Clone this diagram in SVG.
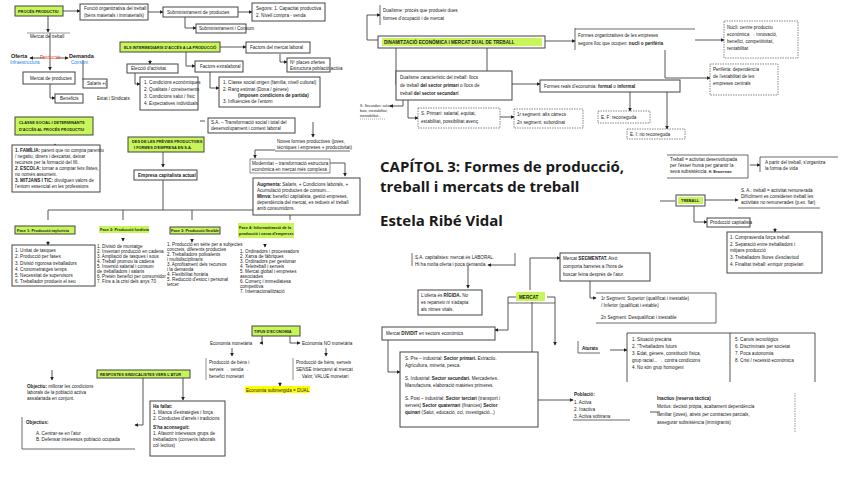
<svg xmlns="http://www.w3.org/2000/svg" width="848" height="477" viewBox="0 0 848 477">
<style>
text{font-family:"Liberation Sans",Arial,sans-serif;font-size:4.6px;fill:#222}
.b{fill:#fff;stroke:#444;stroke-width:1}
.g{fill:#c8f55a;stroke:#444;stroke-width:1}
.d{fill:#fff;stroke:#555;stroke-width:0.7;stroke-dasharray:1.5 1}
.t{font-weight:bold}
.s{font-size:3.9px}
.c path,.c line{fill:none;stroke:#444;stroke-width:0.9}
.big{font-size:15px;font-weight:bold;font-family:"Open Sans","Liberation Sans",sans-serif;fill:#1a1a1a}
</style>
<defs><marker id="a" viewBox="0 0 6 6" refX="5" refY="3" markerWidth="4" markerHeight="4" orient="auto"><path d="M0,0L6,3L0,6z" fill="#222"/></marker></defs>
<rect width="848" height="477" fill="#fff"/>
<g class="c" marker-end="url(#a)">
<path d="M63,11H80"/><path d="M148,12H163"/><path d="M238,12H252"/><path d="M185,17V28H196"/>
<path d="M48,16V32" /><path d="M50,33V70"/><path d="M45,58H30"/><path d="M56,58H68"/>
<path d="M50,84V98H55"/><path d="M83,60V80H87" marker-end="none"/>
<path d="M220,47H246"/><path d="M186,52V66H195"/><path d="M280,54V62H287"/><path d="M150,60V64"/>
<path d="M135,73V84H140"/><path d="M210,72V88H219"/>
<path d="M55,150V144"/><path d="M205,121H200" marker-end="none"/><path d="M313,122V137"/>
<path d="M275,150H255V158"/><path d="M330,163H345V176"/><path d="M163,152V167"/>
<path d="M163,180V210M48,210H290M48,210V220M123,210V220M192,210V220M290,210V220" marker-end="none"/>
<path d="M48,241V245"/><path d="M123,238V241"/><path d="M192,240V242"/><path d="M265,244V247"/>
<path d="M262,336V343H260"/><path d="M290,336V343H300"/><path d="M232,348V356"/><path d="M326,348V356"/><path d="M280,382V386"/>
<path d="M52,370V380"/><path d="M143,378V425H135"/><path d="M183,378V400"/>
<path d="M380,40H367V15H380"/><path d="M545,41H575"/><path d="M695,40H724"/><path d="M665,50V78H710"/>
<path d="M396,48V85H402"/><path d="M487,48V84H540"/><path d="M630,92V111"/><path d="M667,92V129"/>
<path d="M403,100V106H390"/><path d="M408,100V118H418"/><path d="M500,117H514"/>
<path d="M660,201H675" marker-end="none"/><path d="M705,200H738"/><path d="M694,206V222H707"/><path d="M750,165H760"/><path d="M775,228V232"/>
<path d="M530,290V258H560"/><path d="M515,265H488"/><path d="M468,266V288"/><path d="M517,297H508V330H495"/>
<path d="M590,280V298H596"/><path d="M547,297H555V345"/><path d="M532,302V400H573"/><path d="M388,340V372H400"/>
<path d="M610,350H627"/><path d="M660,412H650" marker-end="none"/>
</g>
<g id="proces"><rect class="g" x="15" y="6" width="48" height="10"/><text class="t s" x="18" y="12.5">PROCÉS PRODUCTIU</text></g>
<g id="funcio"><rect class="b" x="80" y="4" width="68" height="16"/><text x="84" y="10">Funció organitzativa del treball</text><text x="84" y="17">(béns materials i immaterials)</text></g>
<g id="submin"><rect class="b" x="163" y="7" width="75" height="10"/><text x="167" y="14">Subministrament de productes</text></g>
<g id="segons"><rect class="b" x="252" y="3" width="73" height="18"/><text x="256" y="10">Segons: 1. Capacitat productiva</text><text x="256" y="17">2. Nivell compra - venda</text></g>
<g id="consum"><rect class="b" x="196" y="24" width="50" height="9"/><text x="199" y="30">Subministrament i Consum</text></g>
<g id="mtreball"><line x1="27" y1="33" x2="70" y2="33" stroke="#555" stroke-width="0.6"/><text x="30" y="38">Mercat de treball</text></g>
<g id="oferta"><text class="t" x="11" y="58" style="font-size:5.5px">Oferta</text><text x="10" y="64" style="fill:#1e88e5">Infraestructura</text><text x="40" y="59" style="fill:#e53935">Producció</text></g>
<g id="demanda"><text class="t" x="69" y="58" style="font-size:5.5px">Demanda</text><text x="71" y="64" style="fill:#1e88e5">Consum</text></g>
<g id="mprod"><rect class="b" x="23" y="72" width="52" height="12"/><text x="30" y="80">Mercat de productes</text></g>
<g id="benef"><rect class="b" x="55" y="94" width="28" height="9"/><text x="60" y="100">Beneficis</text></g>
<g id="salaris"><rect class="b" x="83" y="79" width="24" height="9"/><text x="87" y="85">Salaris  +(</text><text x="97" y="100">Estat i Sindicats</text></g>
<g id="intermed"><rect class="g" x="120" y="42" width="100" height="10"/><text class="t s" x="124" y="48.5">ELS INTERMEDIARIS D'ACCÉS A LA PRODUCCIÓ</text></g>
<g id="factors"><rect class="b" x="246" y="42" width="64" height="11"/><text x="250" y="49">Factors del mercat laboral</text></g>
<g id="extra"><rect class="b" x="195" y="61" width="48" height="11"/><text x="200" y="68">Factors extralaboral</text></g>
<g id="places"><rect class="b" x="287" y="58" width="43" height="14"/><text x="290" y="64">Nº places ofertes</text><text x="290" y="70">Estructura població activa</text></g>
<g id="eleccio"><rect class="b" x="127" y="64" width="51" height="9"/><text x="131" y="70">Elecció d'activitat</text></g>
<g id="condic"><rect class="b" x="140" y="77" width="58" height="33"/><text x="144" y="84">1. Condicions econòmiques</text><text x="144" y="91">2. Qualitats / coneixements</text><text x="144" y="98">3. Condicions salut / físic</text><text x="144" y="105">4. Expectatives individuals</text></g>
<g id="classe"><rect class="b" x="219" y="77" width="101" height="30"/><text x="223" y="84">1. Classe social origen (família, nivell cultural)</text><text x="223" y="91">2. Rang estimat (Dona / gènere)</text><text class="t" x="238" y="97">(imposen condicions de partida)</text><text x="223" y="103">3. Influències de l'entorn</text></g>
<g id="clsoc"><rect class="g" x="15" y="117" width="78" height="18"/><text class="t s" x="19" y="124">CLASSE SOCIAL I DETERMINANTS</text><text class="t s" x="19" y="131">D'ACCÉS AL PROCÉS PRODUCTIU</text></g>
<g id="familia"><rect class="b" x="12" y="145" width="88" height="47"/><text x="15" y="152"><tspan class="t">1. FAMÍLIA:</tspan> parent que no compta parentiu</text><text x="15" y="158">/ negatiu, diners i descartat, deixar</text><text x="15" y="164">recursos per la formació del fill.</text><text x="15" y="170"><tspan class="t">2. ESCOLA:</tspan> tornar a comptar fets llistes,</text><text x="15" y="176">no només assumeix.</text><text x="15" y="182"><tspan class="t">3. MITJANS I TIC:</tspan> divulguen valors de</text><text x="15" y="188">l'entorn essencial en les professions</text></g>
<g id="sa"><rect class="b" x="208" y="118" width="87" height="15"/><text x="211" y="124">S.A. – Transformació social i total del</text><text x="211" y="130">desenvolupament i context laboral</text></g>
<g id="desde"><rect class="g" x="128" y="137" width="76" height="15"/><text class="t s" x="132" y="143">DES DE LES PRÈVIES PRODUCTIVES</text><text class="t s" x="134" y="149">I FORMES D'EMPRESA EN S.A.</text></g>
<g id="noves"><text x="277" y="143">Noves formes productives (joves,</text><text x="277" y="149">tècniques i empreses + productivitat)</text><line x1="275" y1="151" x2="350" y2="151" stroke="#444" stroke-width="0.8"/></g>
<g id="modern"><rect class="b" x="250" y="159" width="80" height="14" style="stroke-width:0.6"/><text x="252" y="165">Modernitat – transformació estructura</text><text x="252" y="171">econòmica en mercat més complexa</text></g>
<g id="augmenta"><rect class="b" x="253" y="178" width="107" height="37"/><text x="257" y="186"><tspan class="t">Augmenta:</tspan> Salaris, + Condicions laborals, +</text><text x="257" y="192">Acumulació productes de consum...</text><text x="257" y="198"><tspan class="t">Minva:</tspan> benefici capitalista, gestió empreses,</text><text x="257" y="204">dependència del mercat, es redueix el treball</text><text x="257" y="210">amb consumidors.</text></g>
<g id="empresa"><rect class="b" x="134" y="170" width="63" height="10"/><text class="t" x="138" y="177">Empresa capitalista actual</text></g>
<g id="f1"><rect class="g" x="15" y="226" width="60" height="8"/><text class="t s" x="17" y="231.5">Fase 1: Producció taylorista</text></g>
<g id="f2"><rect class="g" x="99" y="226" width="50" height="7" style="stroke:none"/><text class="t s" x="100" y="231">Fase 2: Producció fordista</text></g>
<g id="f3"><rect class="g" x="170" y="227" width="50" height="7"/><text class="t s" x="171" y="232">Fase 3: Producció flexible</text></g>
<g id="f4"><rect class="g" x="238" y="223" width="56" height="15" style="stroke:none"/><text class="t s" x="239" y="229">Fase 4: Informatització de la</text><text class="t s" x="239" y="235">producció i xarxa d'empreses</text></g>
<g id="l1"><rect class="b" x="12" y="245" width="83" height="41"/><text x="15" y="252">1. Unitat de tasques</text><text x="15" y="258">2. Producció per fases</text><text x="15" y="265">3. Divisió rigorosa treballadors</text><text x="15" y="271">4. Cronometratges temps</text><text x="15" y="277">5. Necessitat de supervisors</text><text x="15" y="283">6. Treballador produeix el seu</text></g>
<g id="l2"><text x="97" y="248">1. Divisió de muntatge</text><text x="97" y="253">2. Inventari producció en cadena</text><text x="97" y="258">3. Ampliació de tasques i sous</text><text x="97" y="263">4. Treball promou la cadena</text><text x="97" y="268">5. Inversió salarial i consum</text><text x="97" y="273">de treballadors i salaris</text><text x="97" y="278">6. Pretén benefici per consumidor</text><text x="97" y="283">7. Fins a la crisi dels anys 70</text></g>
<g id="l3"><text x="167" y="246">1. Producció en sèrie per a subjectes</text><text x="167" y="251">concrets, diferents productes</text><text x="167" y="256">2. Treballadors polivalents</text><text x="167" y="261">i multidisciplinaris</text><text x="167" y="266">3. Aprofitament dels recursos</text><text x="167" y="271">i la demanda</text><text x="167" y="276">4. Flexibilitat horària</text><text x="167" y="281">5. Reducció d'estoc i personal</text><text x="167" y="286">tercer</text></g>
<g id="l4"><text x="240" y="253">1. Ordinadors i processadors</text><text x="240" y="258">2. Xarxa de fàbriques</text><text x="240" y="263">3. Ordinadors per gestionar</text><text x="240" y="268">4. Teletreball i serveis</text><text x="240" y="273">5. Mercat global i empreses</text><text x="240" y="278">associades</text><text x="240" y="283">6. Comerç i immediatesa</text><text x="240" y="288">competitiva</text><text x="240" y="293">7. Internacionalització</text></g>
<g id="tipus"><rect class="g" x="252" y="326" width="48" height="10"/><text class="t s" x="254" y="332.5">TIPUS D'ECONOMIA</text></g>
<g id="emon"><text x="210" y="345">Economia monetària</text></g>
<g id="enomon"><text x="302" y="345">Economia NO monetària</text></g>
<g id="pmon"><line x1="206" y1="358" x2="206" y2="380" stroke="#444" stroke-width="0.6"/><text x="209" y="364">Producció de béns i</text><text x="209" y="371">serveis → venda →</text><text x="209" y="378">benefici monetari</text></g>
<g id="pnomon"><line x1="293" y1="358" x2="293" y2="380" stroke="#444" stroke-width="0.6"/><text x="296" y="364">Producció de béns, serveis</text><text x="296" y="371">SENSE intercanvi al mercat</text><text x="296" y="378">→ Valor, VALUE monetari</text></g>
<g id="dual"><rect x="245" y="386" width="65" height="7" fill="#ffff00"/><text x="246" y="392">Economia submergida = DUAL</text></g>
<g id="resp"><rect class="g" x="97" y="370" width="93" height="8"/><text class="t s" x="100" y="375.5">RESPOSTES SINDICALISTES VERS L'ATUR</text></g>
<g id="obj"><text x="27" y="388"><tspan class="t">Objectiu:</tspan> millorar les condicions</text><text x="27" y="394">laborals de la població activa</text><text x="27" y="400">assalariada en conjunt.</text></g>
<g id="objs"><path d="M22,417V449H135" fill="none" stroke="#444" stroke-width="0.8"/><text class="t" x="26" y="424">Objectius:</text><text x="36" y="435">A.    Centrar-se en l'atur</text><text x="36" y="441">B.    Defensar interessos població ocupada</text></g>
<g id="fallat"><rect class="b" x="150" y="401" width="75" height="55"/><text class="t" x="153" y="408">Ha fallat:</text><text x="153" y="414">1. Manca d'estratègies i força</text><text x="153" y="420">2. Conductes d'arrels i tradicions</text><text class="t" x="153" y="429">S'ha aconseguit:</text><text x="153" y="435">1. Afavorir interessos grups de</text><text x="153" y="441">treballadors (convenis laborals</text><text x="153" y="447">col·lectius)</text></g>
<g id="dualisme"><path d="M380,5V25" stroke="#444" stroke-width="0.8"/><text x="383" y="12">Dualisme: procés que produeix dues</text><text x="383" y="20">formes d'ocupació i de mercat</text></g>
<g id="dinam"><rect class="b" x="378" y="36" width="167" height="12"/><rect x="382" y="38" width="160" height="8" fill="#c8f55a"/><text class="t" x="384" y="44">DINAMITZACIÓ ECONÒMICA I MERCAT DUAL DE TREBALL</text></g>
<g id="formes"><path d="M575,28V50" stroke="#444" stroke-width="0.8"/><line x1="575" y1="29" x2="695" y2="29" stroke="#444" stroke-width="0.8"/><text x="578" y="37">Formes organitzatives de les empreses</text><text x="578" y="45">segons lloc que ocupen: <tspan class="t">nucli o perifèria</tspan></text></g>
<g id="nucli"><rect class="d" x="724" y="21" width="74" height="37"/><text x="727" y="29">Nucli: centre productiu</text><text x="727" y="36">econòmica → innovació,</text><text x="727" y="43">benefici, competitivitat,</text><text x="727" y="50">rentabilitat</text></g>
<g id="perif"><rect class="d" x="710" y="64" width="68" height="31"/><text x="713" y="71">Perifèria: dependència</text><text x="713" y="78">de l'estabilitat de les</text><text x="713" y="85">empreses centrals</text></g>
<g id="dualtr"><rect class="b" x="396" y="71" width="116" height="29"/><text x="400" y="79">Dualisme característic del treball: llocs</text><text x="400" y="87">de treball <tspan class="t">del sector primari</tspan> o llocs de</text><text x="400" y="95">treball <tspan class="t">del sector secundari</tspan></text></g>
<g id="reals"><rect class="b" x="540" y="80" width="140" height="12"/><text x="544" y="88">Formes reals d'economia: <tspan class="t">formal</tspan> o <tspan class="t">informal</tspan></text></g>
<g id="ef"><rect class="d" x="598" y="111" width="52" height="12"/><text x="601" y="119">E. F: reconeguda</text></g>
<g id="ei"><rect class="d" x="627" y="129" width="58" height="10"/><text x="630" y="136">E. I: no reconeguda</text></g>
<g id="sprim"><rect class="d" x="418" y="108" width="82" height="20"/><text x="421" y="115">S. Primari: salarial, equitat,</text><text x="421" y="123">estabilitat, possibilitat avenç</text></g>
<g id="segm"><rect class="d" x="514" y="109" width="69" height="19"/><text x="517" y="116">1r segment: alts càrrecs</text><text x="517" y="124">2n segment: subordinat</text></g>
<g id="ssec"><text x="360" y="107" style="font-size:3.6px">S. Secundari: salari</text><text x="360" y="112" style="font-size:3.6px">baix, inestabilitat,</text><text x="360" y="117" style="font-size:3.6px">inestabilitat...</text><line x1="360" y1="119" x2="385" y2="119" stroke="#555" stroke-width="0.5" stroke-dasharray="1 1"/></g>
<g id="title"><text class="big" x="380" y="172">CAPÍTOL 3: Formes de producció,</text><text class="big" x="380" y="192">treball i mercats de treball</text><text class="big" x="380" y="226">Estela Ribé Vidal</text></g>
<g id="treballdef"><path d="M667,155H748V178H667" fill="none" stroke="#444" stroke-width="0.8"/><text x="670" y="161">Treball = activitat desenvolupada</text><text x="670" y="167">per l'ésser humà per garantir la</text><text x="670" y="173">seva subsistència.    <tspan class="t" style="font-size:3.5px">H. Braverman</tspan></text></g>
<g id="partir"><path d="M760,157H838M760,157V172" fill="none" stroke="#444" stroke-width="0.8"/><text x="765" y="164">A partir del treball, s'organitza</text><text x="765" y="170">la forma de vida</text></g>
<g id="treball"><rect class="b" x="676" y="195" width="29" height="11"/><rect x="678" y="197" width="25" height="7" fill="#c8f55a"/><text class="t s" x="681" y="202">TREBALL</text></g>
<g id="satreball"><path d="M738,208H820" stroke="#444" stroke-width="0.8"/><text x="741" y="192">S. A.: treball = activitat remunerada</text><text x="741" y="198">Difícilment es consideren treball les</text><text x="741" y="204">activitats no remunerades (p.ex. llar)</text></g>
<g id="pcap"><rect class="b" x="707" y="218" width="43" height="9"/><text x="710" y="224">Producció capitalista</text></g>
<g id="compra"><rect class="b" x="727" y="232" width="95" height="41"/><text x="730" y="239">1. Compravenda força treball</text><text x="730" y="246">2. Separació entre treballadors i</text><text x="730" y="252">mitjans producció</text><text x="730" y="259">3. Treballadors lliures d'esclavitud</text><text x="730" y="266">4. Finalitat treball: enriquir propietari</text></g>
<g id="salab"><path d="M412,253V266M515,253V266" stroke="#444" stroke-width="0.8"/><text x="415" y="259">S.A. capitalistes: mercat és LABORAL.</text><text x="415" y="266">Hi ha molta oferta i poca demanda.</text></g>
<g id="rigida"><rect class="b" x="418" y="290" width="64" height="25"/><text x="421" y="297">L'oferta és <tspan class="t">RÍGIDA.</tspan> No</text><text x="421" y="304">es reparteix ni s'adapta</text><text x="421" y="311">als ritmes vitals.</text></g>
<g id="mercat"><rect x="516" y="292" width="29" height="9" fill="#c8f55a"/><path d="M508,303H555" stroke="#444" stroke-width="0.8"/><text class="t" x="519" y="299">MERCAT</text></g>
<g id="segmentat"><rect class="b" x="560" y="253" width="90" height="28"/><text x="563" y="260">Mercat <tspan class="t">SEGMENTAT.</tspan> Això</text><text x="563" y="268">comporta barreres a l'hora de</text><text x="563" y="276">buscar feina després de l'atur.</text></g>
<g id="segments"><path d="M596,293H716V323H596" fill="none" stroke="#444" stroke-width="0.8"/><text x="601" y="300">1r Segment: Superior (qualificat i inestable)</text><text x="601" y="307">/ Inferior (qualificat i estable)</text><text x="601" y="319">2n Segment: Desqualificat i inestable</text></g>
<g id="dividit"><rect class="b" x="382" y="327" width="113" height="13"/><text x="386" y="335">Mercat <tspan class="t">DIVIDIT</tspan> en sectors econòmics</text></g>
<g id="sectors"><rect class="b" x="400" y="352" width="138" height="75"/><text x="405" y="360">S. Pre – industrial: <tspan class="t">Sector primari.</tspan> Extractiu.</text><text x="405" y="367">Agricultura, mineria, pesca.</text><text x="405" y="380">S. Industrial: <tspan class="t">Sector secundari.</tspan> Mercaderies.</text><text x="405" y="387">Manufactura, elaboració matèries primeres.</text><text x="405" y="400">S. Post – industrial: <tspan class="t">Sector terciari</tspan> (transport i</text><text x="405" y="407">serveis) <tspan class="t">Sector quaternari</tspan> (finances) <tspan class="t">Sector</tspan></text><text x="405" y="414"><tspan class="t">quinari</tspan> (Salut, educació, oci, investigació...)</text></g>
<g id="aturats"><path d="M578,341V353H600" fill="none" stroke="#444" stroke-width="0.8"/><text class="t" x="582" y="350">Aturats</text></g>
<g id="aturlist"><path d="M627,382V333H815V382M730,333V382" fill="none" stroke="#444" stroke-width="0.9"/><text x="632" y="341">1. Situació precària</text><text x="632" y="348">2. "Treballadors futurs</text><text x="632" y="355">3. Edat, gènere, constitució física,</text><text x="632" y="362">grup racial... → contra condicions</text><text x="632" y="369">4. No són grup homogeni</text><text x="735" y="341">5. Canvis tecnològics</text><text x="735" y="348">6. Discriminats per societat</text><text x="735" y="355">7. Poca autonomia</text><text x="735" y="362">8. Crisi / recessió econòmica</text></g>
<g id="poblacio"><path d="M573,420H630" stroke="#444" stroke-width="0.8"/><text class="t" x="574" y="396">Població:</text><text x="574" y="404">1. Activa</text><text x="574" y="411">2. Inactiva</text><text x="574" y="418">3. Activa sobirana</text></g>
<g id="inactius"><path d="M795,393V432" stroke="#555" stroke-width="0.6" stroke-dasharray="1.5 1"/><text class="t" x="657" y="400">Inactius (reserva tàctica)</text><text x="657" y="408">Motius: decisió pròpia, acabament dependència</text><text x="657" y="416">familiar (joves), atrets per contractes parcials,</text><text x="657" y="424">assegurar subsistència (immigrants)</text></g>
</svg>
